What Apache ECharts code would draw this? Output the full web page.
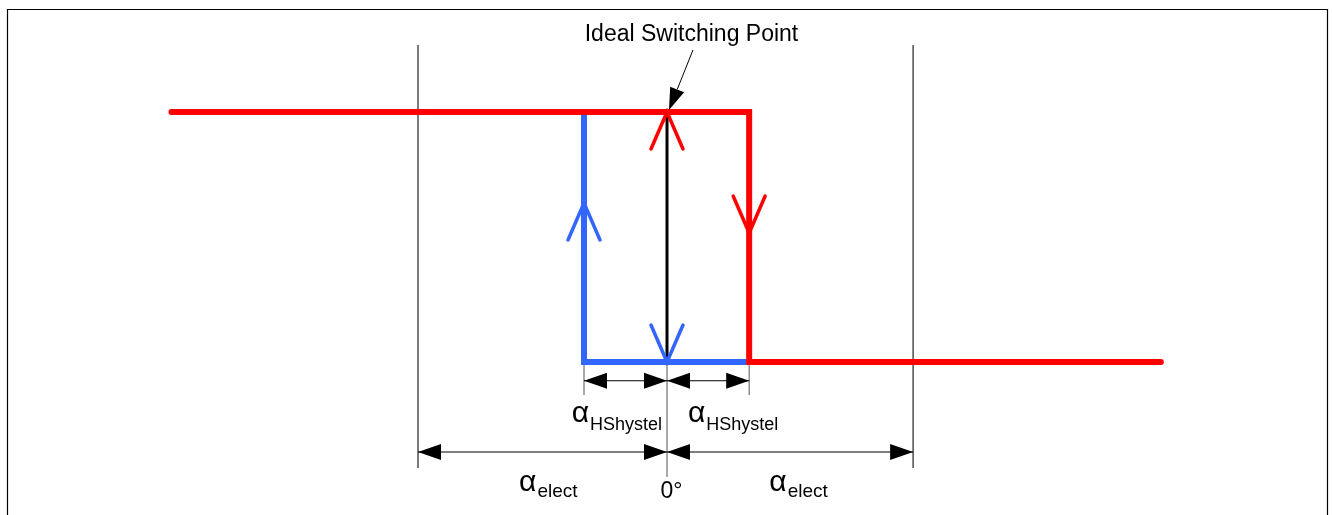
<!DOCTYPE html>
<html><head><meta charset="utf-8">
<script src="https://cdn.jsdelivr.net/npm/echarts@6/dist/echarts.min.js"></script>
<style>html,body{margin:0;padding:0;background:#fff}#c{width:1332px;height:515px}</style>
</head><body><div id="c"></div>
<script>
// Angle axis in units of the hysteresis angle; 0° = ideal switching point. Output level: 1 = high, 0 = low.
const redPath = [[-5.97, 1], [0.99, 1], [0.99, 0], [5.95, 0]];
const bluePath = [[0.99, 0], [-1, 0], [-1, 1]];
const idealPath = [[0, 0], [0, 1]];
// direction chevrons: [angle, level, direction (1 = up, -1 = down)]
const redArrows = [[0, 1, 1], [0.99, 0.516, -1]];
const blueArrows = [[-1, 0.636, 1], [0, 0, -1]];
// thin guide lines: [angle, top level, bottom level]
const guideLines = [[-3, 1.268, -0.424], [2.965, 1.268, -0.424], [-1, 0, -0.132], [0.99, 0, -0.132], [0, 0, -0.46]];
// dimension lines: [from angle, to angle, level]
const dimLines = [[-1, 0, -0.075], [0, 0.99, -0.075], [-3, 0, -0.36], [0, 2.965, -0.36]];
// labels
const labelX = [-0.06, 0.253, -1.43, 1.585, 0.054];
const labelY = [-0.29, -0.29, -0.558, -0.558, -0.566];
const labelMain = ['α', 'α', 'α', 'α', '0°'];
const labelSub = ['HShystel', 'HShystel', 'elect', 'elect', ''];
const labelAlign = ['right', 'left', 'center', 'center', 'center'];
const titleText = 'Ideal Switching Point';
const titlePos = [0.295, 1.263];
const pointerArrow = [[0.313, 1.248, 0.024, 1.008]];

const FONT = "'Liberation Sans', Arial, sans-serif";
const chart = echarts.init(document.getElementById('c'), null, {renderer: 'canvas'});

function chevron(color) {
  return function (params, api) {
    const p = api.coord([api.value(0), api.value(1)]);
    const d = api.value(2);
    const len = 37, hw = 16;
    return {
      type: 'polyline',
      shape: {points: [[p[0] - hw, p[1] + len * d], [p[0], p[1]], [p[0] + hw, p[1] + len * d]]},
      style: {stroke: color, lineWidth: 3.5, fill: null, lineCap: 'round', lineJoin: 'miter'}
    };
  };
}

chart.setOption({
  animation: false,
  backgroundColor: '#fff',
  grid: {left: 86, right: 84, top: 12, bottom: 3},
  xAxis: {type: 'value', min: -7, max: 7, show: false},
  yAxis: {type: 'value', min: -0.6, max: 1.4, show: false},
  graphic: [{
    type: 'rect', z: 100,
    shape: {x: 7.5, y: 9.5, width: 1320, height: 530},
    style: {fill: null, stroke: '#000', lineWidth: 1.2}
  }],
  series: [
    {
      type: 'custom', z: 1, silent: true,
      data: guideLines,
      renderItem: function (params, api) {
        const a = api.coord([api.value(0), api.value(1)]);
        const b = api.coord([api.value(0), api.value(2)]);
        const main = Math.abs(api.value(1)) > 1;
        return {type: 'line', shape: {x1: a[0], y1: a[1], x2: b[0], y2: b[1]},
          style: {stroke: main ? '#333' : '#555', lineWidth: main ? 1.3 : 1}};
      }
    },
    {
      type: 'custom', z: 1, silent: true,
      data: dimLines,
      renderItem: function (params, api) {
        const a = api.coord([api.value(0), api.value(2)]);
        const b = api.coord([api.value(1), api.value(2)]);
        const L = 23, H = 8;
        return {type: 'group', children: [
          {type: 'line', shape: {x1: a[0], y1: a[1], x2: b[0], y2: b[1]}, style: {stroke: '#000', lineWidth: 1}},
          {type: 'polygon', shape: {points: [[a[0], a[1]], [a[0] + L, a[1] - H], [a[0] + L, a[1] + H]]}, style: {fill: '#000'}},
          {type: 'polygon', shape: {points: [[b[0], b[1]], [b[0] - L, b[1] - H], [b[0] - L, b[1] + H]]}, style: {fill: '#000'}}
        ]};
      }
    },
    {
      type: 'line', z: 2, data: idealPath, symbol: 'none', silent: true,
      lineStyle: {color: '#000', width: 3}
    },
    {
      type: 'line', z: 3, data: bluePath, symbol: 'none', silent: true,
      lineStyle: {color: '#3366FF', width: 6, cap: 'round', join: 'miter'}
    },
    {
      type: 'line', z: 4, data: redPath, symbol: 'none', silent: true,
      lineStyle: {color: '#FF0000', width: 6, cap: 'round', join: 'miter'}
    },
    {type: 'custom', z: 5, silent: true, data: blueArrows, renderItem: chevron('#3366FF')},
    {type: 'custom', z: 5, silent: true, data: redArrows, renderItem: chevron('#FF0000')},
    {
      type: 'custom', z: 6, silent: true,
      data: pointerArrow,
      renderItem: function (params, api) {
        const a = api.coord([api.value(0), api.value(1)]);
        const b = api.coord([api.value(2), api.value(3)]);
        const dx = b[0] - a[0], dy = b[1] - a[1];
        const n = Math.sqrt(dx * dx + dy * dy), ux = dx / n, uy = dy / n;
        const L = 22, H = 7.5;
        const bx = b[0] - ux * L, by = b[1] - uy * L;
        return {type: 'group', children: [
          {type: 'line', shape: {x1: a[0], y1: a[1], x2: bx, y2: by}, style: {stroke: '#000', lineWidth: 1}},
          {type: 'polygon', shape: {points: [[b[0], b[1]], [bx - uy * H, by + ux * H], [bx + uy * H, by - ux * H]]}, style: {fill: '#000'}}
        ]};
      }
    },
    {
      type: 'custom', z: 7, silent: true,
      data: labelX.map((x, i) => [x, labelY[i]]),
      renderItem: function (params, api) {
        const i = params.dataIndex;
        const p = api.coord([api.value(0), api.value(1)]);
        const isH = labelSub[i] === 'HShystel';
        const text = labelSub[i] ? '{a|' + labelMain[i] + '}{s|' + labelSub[i] + '}' : '{z|' + labelMain[i] + '}';
        return {
          type: 'text', x: p[0], y: p[1],
          style: {
            text: text, align: labelAlign[i], verticalAlign: 'bottom', fill: '#000',
            rich: {
              a: {fontSize: 30, fontFamily: FONT, fill: '#000', verticalAlign: 'bottom', padding: [0, 1, isH ? 6 : 4, 0]},
              s: {fontSize: isH ? 18 : 19, fontFamily: FONT, fill: '#000', verticalAlign: 'bottom'},
              z: {fontSize: 23, fontFamily: FONT, fill: '#000', verticalAlign: 'bottom'}
            }
          }
        };
      }
    },
    {
      type: 'custom', z: 7, silent: true,
      data: [titlePos],
      renderItem: function (params, api) {
        const p = api.coord([api.value(0), api.value(1)]);
        return {type: 'text', x: p[0], y: p[1],
          style: {text: titleText, align: 'center', verticalAlign: 'bottom', fontSize: 23, fontFamily: FONT, fill: '#000'}};
      }
    }
  ]
});
</script></body></html>
